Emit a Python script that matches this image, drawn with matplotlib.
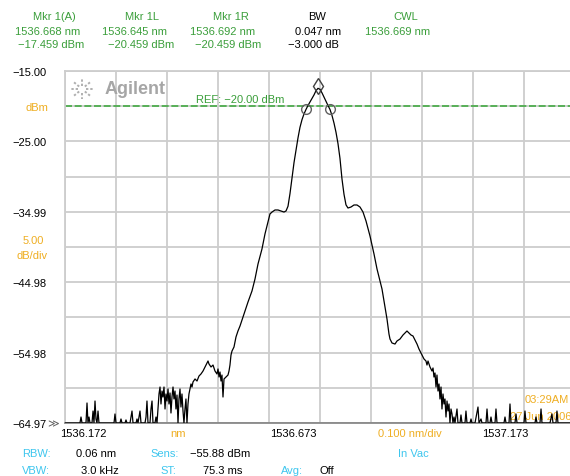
import numpy as np
import matplotlib
matplotlib.use("Agg")
import matplotlib.pyplot as plt

plt.rcParams['font.family'] = ['Liberation Sans', 'DejaVu Sans']

# ---------------- data ----------------
trace_wl = [
    1536.1720, 1536.2014, 1536.2034, 1536.2054, 1536.2132, 1536.2152, 1536.2171, 1536.2191, 1536.2211, 1536.2250,
    1536.2270, 1536.2289, 1536.2309, 1536.2328, 1536.2348, 1536.2368, 1536.2387, 1536.2505, 1536.2603, 1536.2682,
    1536.2701, 1536.2721, 1536.2799, 1536.2819, 1536.2839, 1536.2898, 1536.2917, 1536.2937, 1536.2996, 1536.3015,
    1536.3035, 1536.3055, 1536.3114, 1536.3133, 1536.3153, 1536.3192, 1536.3212, 1536.3290, 1536.3310, 1536.3329,
    1536.3349, 1536.3388, 1536.3408, 1536.3428, 1536.3447, 1536.3486, 1536.3506, 1536.3526,
    1536.3545, 1536.3565, 1536.3585, 1536.3604, 1536.3624, 1536.3643, 1536.3663, 1536.3683, 1536.3702, 1536.3722,
    1536.3742, 1536.3761, 1536.3781, 1536.3800, 1536.3820, 1536.3840, 1536.3859, 1536.3879, 1536.3898, 1536.3918,
    1536.3938, 1536.3957, 1536.3977, 1536.3996, 1536.4016, 1536.4036, 1536.4055, 1536.4075, 1536.4094, 1536.4114,
    1536.4134, 1536.4153, 1536.4173,
    1536.4193, 1536.4213, 1536.4232, 1536.4272, 1536.4311, 1536.4350, 1536.4389, 1536.4429, 1536.4468, 1536.4507,
    1536.4527, 1536.4546, 1536.4586, 1536.4625, 1536.4664, 1536.4703, 1536.4723, 1536.4743, 1536.4762, 1536.4782,
    1536.4801, 1536.4821, 1536.4841, 1536.4880, 1536.4919, 1536.4939, 1536.4958, 1536.4978, 1536.4998, 1536.5037,
    1536.5076, 1536.5115, 1536.5155, 1536.5233, 1536.5312, 1536.5390, 1536.5449, 1536.5508, 1536.5586, 1536.5645,
    1536.5704, 1536.5743, 1536.5783, 1536.5842, 1536.5901, 1536.5959, 1536.6018, 1536.6058, 1536.6097, 1536.6136,
    1536.6176, 1536.6215, 1536.6254, 1536.6293, 1536.6332, 1536.6372, 1536.6411, 1536.6450, 1536.6489, 1536.6529,
    1536.6568, 1536.6607, 1536.6646, 1536.6686, 1536.6725, 1536.6764, 1536.6803, 1536.6843, 1536.6882, 1536.6921,
    1536.6960, 1536.7000, 1536.7039, 1536.7078, 1536.7117, 1536.7156, 1536.7196, 1536.7235, 1536.7274, 1536.7333,
    1536.7392, 1536.7451, 1536.7510, 1536.7569, 1536.7628, 1536.7706, 1536.7785, 1536.7844, 1536.7903, 1536.7942,
    1536.8001, 1536.8040, 1536.8079, 1536.8099, 1536.8138, 1536.8197, 1536.8236, 1536.8295, 1536.8354, 1536.8393,
    1536.8432, 1536.8472, 1536.8511, 1536.8550, 1536.8589, 1536.8629, 1536.8668, 1536.8688, 1536.8727, 1536.8766,
    1536.8805, 1536.8825, 1536.8845, 1536.8884, 1536.8923, 1536.8943, 1536.8962, 1536.8982, 1536.9002, 1536.9021,
    1536.9041, 1536.9061, 1536.9080, 1536.9100, 1536.9119, 1536.9139, 1536.9159, 1536.9178, 1536.9198, 1536.9218,
    1536.9237, 1536.9257, 1536.9276, 1536.9296, 1536.9316, 1536.9335, 1536.9355, 1536.9374, 1536.9414, 1536.9433,
    1536.9473, 1536.9492, 1536.9512, 1536.9571, 1536.9590, 1536.9610, 1536.9669, 1536.9689, 1536.9708, 1536.9767,
    1536.9826, 1536.9846, 1536.9885, 1536.9905, 1536.9983, 1537.0003, 1537.0023, 1537.0061, 1537.0081, 1537.0101,
    1537.0160, 1537.0179, 1537.0199, 1537.0258, 1537.0336, 1537.0356, 1537.0376, 1537.0435, 1537.0454, 1537.0474,
    1537.0552, 1537.0572, 1537.0592, 1537.0650, 1537.0729, 1537.0748, 1537.0768, 1537.0847, 1537.0945, 1537.0964,
    1537.0984, 1537.1043, 1537.1063, 1537.1082, 1537.1141, 1537.1239, 1537.1278, 1537.1298, 1537.1357, 1537.1376,
    1537.1396, 1537.1534, 1537.1730,
]
trace_dbm = [
    -64.97, -64.97, -64.12, -64.97, -64.97, -62.13, -64.97, -64.12, -64.97, -64.97,
    -63.27, -64.97, -61.85, -64.40, -64.97, -63.27, -64.97, -64.97, -64.97, -64.97,
    -63.69, -64.97, -64.97, -64.40, -64.97, -64.97, -64.54, -64.97, -64.97, -64.12,
    -63.27, -64.97, -64.97, -64.40, -64.97, -63.27, -64.97, -64.97, -64.12, -61.85,
    -64.97, -64.97, -62.98, -61.85, -64.97, -64.97, -64.12, -64.97,
    -62.98, -60.85, -59.86, -62.27, -60.43, -61.28, -59.86, -62.98, -60.85, -61.85,
    -60.14, -62.27, -60.71, -63.55, -61.28, -59.86, -61.56, -60.43, -62.98, -61.00,
    -64.97, -61.56, -60.14, -62.70, -60.85, -63.27, -64.97, -62.98, -61.56, -64.97,
    -62.27, -60.85, -60.14,
    -59.43, -59.86, -59.15, -58.72, -59.01, -58.30, -58.01, -57.59, -57.02, -56.45,
    -56.17, -56.59, -57.02, -56.74, -57.59, -58.01, -57.30, -58.44, -57.73, -59.01,
    -58.16, -61.28, -58.72, -58.44, -58.16, -57.59, -56.74, -55.32, -54.75, -54.18,
    -52.76, -51.91, -51.20, -49.50, -47.79, -46.23, -44.53, -42.40, -40.27, -38.14,
    -36.44, -35.30, -35.02, -34.73, -34.73, -34.87, -35.02, -34.87, -34.20, -32.40,
    -30.20, -28.00, -26.20, -24.50, -23.00, -21.90, -21.10, -20.46, -19.90, -19.40,
    -18.90, -18.40, -17.80, -17.46, -17.60, -18.10, -18.70, -19.30, -19.90, -20.46,
    -21.30, -22.40, -23.70, -25.30, -27.40, -30.30, -32.50, -34.00, -34.45, -34.31,
    -34.02, -34.02, -34.31, -35.02, -36.29, -38.42, -40.98, -43.11, -44.81, -45.95,
    -48.50, -50.21, -52.34, -53.05, -53.61, -53.76, -53.33, -53.05, -52.48, -52.19,
    -51.91, -52.19, -52.48, -52.62, -53.19, -53.76, -54.47, -54.75, -55.32, -55.88,
    -56.17, -56.74, -56.17, -57.02, -57.59, -57.16, -58.44, -57.87, -59.86, -58.16,
    -60.43, -59.43, -61.56, -59.86, -62.98, -60.85, -62.27, -61.56, -64.12, -61.85,
    -63.27, -62.27, -64.97, -62.98, -63.69, -64.97, -64.12, -64.97, -62.98, -64.97,
    -64.97, -63.83, -64.97, -64.97, -63.27, -64.97, -64.97, -64.40, -64.97, -64.97,
    -62.70, -64.97, -64.40, -64.97, -64.97, -62.98, -64.97, -64.97, -64.12, -64.97,
    -64.97, -62.98, -64.97, -64.97, -64.97, -64.12, -64.97, -64.97, -62.27, -64.97,
    -64.97, -63.69, -64.97, -64.97, -64.97, -63.27, -64.97, -64.97, -64.97, -64.12,
    -64.97, -64.97, -62.98, -64.97, -64.97, -64.97, -63.69, -64.97, -64.97, -63.27,
    -64.97, -64.97, -64.97,
]

x_start, x_center, x_stop = 1536.172, 1536.673, 1537.173
y_bottom, y_top = -64.97, -15.00
ref_level = -20.00
ytick_labels = ["−64.97", "", "−54.98", "", "−44.98", "", "−34.99", "", "−25.00", "", "−15.00"]

marker_peak = (1536.668, -17.459)
marker_l = (1536.645, -20.459)
marker_r = (1536.692, -20.459)

header_titles = ["Mkr 1(A)", "Mkr 1L", "Mkr 1R", "BW", "CWL"]
header_row2 = ["1536.668 nm", "1536.645 nm", "1536.692 nm", "0.047 nm", "1536.669 nm"]
header_row3 = ["−17.459 dBm", "−20.459 dBm", "−20.459 dBm", "−3.000 dB", ""]

# ---------------- figure ----------------
W, H = 570, 477
fig = plt.figure(figsize=(W / 100, H / 100), dpi=100)
fig.patch.set_facecolor("white")

GREEN = "#3a9e3a"
ORANGE = "#efae22"
CYAN = "#3ec6ee"
GRID = "#cdcdcd"
FS = 8

ax = fig.add_axes([65 / W, (H - 424) / H, 510 / W, 352 / H])
ax.set_xlim(x_start, x_stop)
ax.set_ylim(y_bottom, y_top)
ax.set_xticks(np.linspace(x_start, x_stop, 11)[:-1])
ax.set_yticks(np.linspace(y_bottom, y_top, 11))
ax.set_yticklabels(ytick_labels, fontsize=FS)
ax.set_xticklabels([])
ax.tick_params(length=0, pad=13.5)
ax.grid(True, color=GRID, linewidth=1.3)
for s in ["top", "left"]:
    ax.spines[s].set_color(GRID)
    ax.spines[s].set_linewidth(1.3)
ax.spines["right"].set_visible(False)
ax.spines["bottom"].set_color("#808080")
ax.spines["bottom"].set_linewidth(1.2)

def P(x, y):
    return x / W, 1 - y / H

# timestamp under the trace
ax.text(*P(525, 400), "03:29AM", transform=fig.transFigure, color=ORANGE, fontsize=FS,
        va="center", ha="left", zorder=1)
ax.text(*P(510, 417), "27 Jun 2006", transform=fig.transFigure, color=ORANGE, fontsize=FS,
        va="center", ha="left", zorder=1)

# reference line
ax.axhline(ref_level, color="#44aa44", linewidth=1.2, dashes=(4.2, 1.6), zorder=2)
ax.text(*P(196, 100), "REF: −20.00 dBm", transform=fig.transFigure, color=GREEN,
        fontsize=FS, va="center", ha="left")

# trace
ax.plot(trace_wl, trace_dbm, color="black", linewidth=0.9, zorder=3)

# markers
ax.plot([marker_l[0], marker_r[0]], [marker_l[1], marker_r[1]], "o", mfc="none",
        mec="#606060", ms=7, mew=1.0, zorder=4)
ax.plot([marker_peak[0]], [marker_peak[1] + 0.3], "d", mfc="none", mec="#404040",
        ms=8, mew=1.0, zorder=4)

# Agilent logo
cx, cy = 82, 90
for ang in np.arange(0, 360, 45):
    a = np.deg2rad(ang)
    x0, y0 = cx + 4 * np.cos(a), cy + 3.5 * np.sin(a)
    x1, y1 = cx + 12 * np.cos(a), cy + 10 * np.sin(a)
    (fx0, fy0), (fx1, fy1) = P(x0, y0), P(x1, y1)
    ax.plot([fx0, fx1], [fy0, fy1], transform=fig.transFigure, color="#b0b0b0",
            linewidth=1.4, linestyle=(0, (1.2, 1.0)), zorder=2)
ax.text(*P(105, 90), "Agilent", transform=fig.transFigure, color="#a6a6a6",
        fontsize=13, fontweight="bold", va="center", ha="left", zorder=2)

# left side labels
fig.text(*P(48, 108), "dBm", color=ORANGE, fontsize=FS, va="center", ha="right")
fig.text(*P(44, 241), "5.00", color=ORANGE, fontsize=FS, va="center", ha="right")
fig.text(*P(48, 256), "dB/div", color=ORANGE, fontsize=FS, va="center", ha="right")
fig.text(*P(47, 424), "≫", color="#606060", fontsize=FS, va="center", ha="left",
         family=["DejaVu Sans"])

# header readout
title_x = [33, 125, 213, 308, 393]
row2_x = [15, 102, 190, 295, 365]
row3_x = [18, 108, 195, 288, 0]
cols = [GREEN, GREEN, GREEN, "black", GREEN]
for i in range(5):
    fig.text(*P(title_x[i], 17), header_titles[i], color=cols[i], fontsize=FS, va="center")
    fig.text(*P(row2_x[i], 32), header_row2[i], color=cols[i], fontsize=FS, va="center")
    if header_row3[i]:
        fig.text(*P(row3_x[i], 45), header_row3[i], color=cols[i], fontsize=FS, va="center")

# x axis annotations
fig.text(*P(60, 434), "1536.172", color="black", fontsize=FS, va="center")
fig.text(*P(170, 434), "nm", color=ORANGE, fontsize=FS, va="center")
fig.text(*P(270, 434), "1536.673", color="black", fontsize=FS, va="center")
fig.text(*P(378, 434), "0.100 nm/div", color=ORANGE, fontsize=FS, va="center")
fig.text(*P(482, 434), "1537.173", color="black", fontsize=FS, va="center")

# settings rows
rows = [
    ("RBW:", 22, 454, CYAN), ("0.06 nm", 76, 454, "black"), ("Sens:", 150, 454, CYAN),
    ("−55.88 dBm", 190, 454, "black"), ("In Vac", 398, 454, CYAN),
    ("VBW:", 22, 471, CYAN), ("3.0 kHz", 81, 471, "black"), ("ST:", 160, 471, CYAN),
    ("75.3 ms", 203, 471, "black"), ("Avg:", 281, 471, CYAN), ("Off", 320, 471, "black"),
]
for t, x, y, c in rows:
    fig.text(*P(x, y), t, color=c, fontsize=FS, va="center")

fig.savefig("out.png", dpi=100)
